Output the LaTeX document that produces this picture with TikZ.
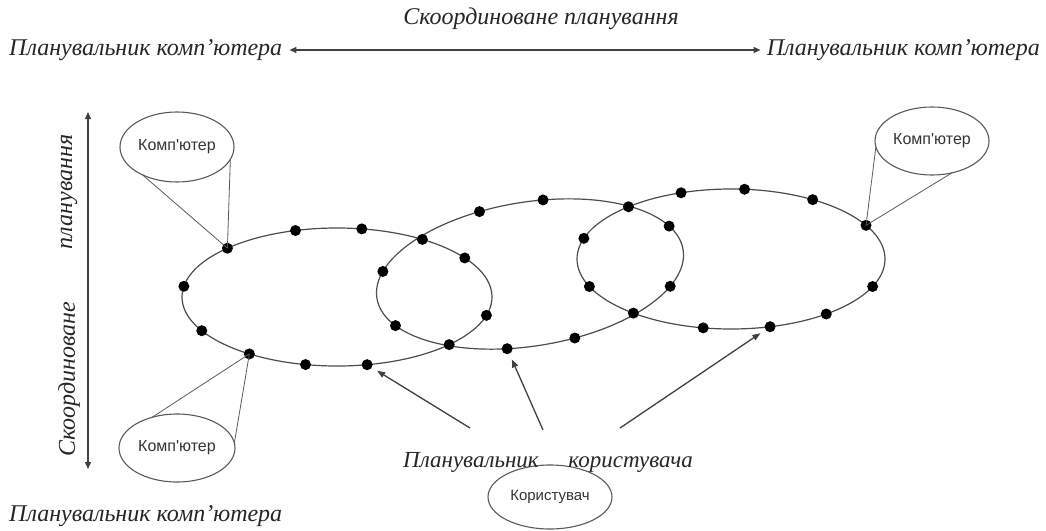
\documentclass[tikz,border=0pt]{standalone}
\usepackage{fontspec}
\setmainfont{Liberation Serif}
\newfontfamily\sansf{Liberation Sans}
\usetikzlibrary{shapes.geometric,arrows.meta}
\begin{document}
\begin{tikzpicture}[x=1pt,y=-1pt,
  lbl/.style={font=\itshape\fontsize{24}{28}\selectfont, text=black!85, inner sep=2pt},
  orbit/.style={ellipse, draw=black!70, line width=1.2pt, outer sep=0pt, inner sep=0pt},
  dot/.style={circle, fill=black, inner sep=0pt, minimum size=11pt},
  bubble/.style={ellipse, draw=black!65, line width=1.1pt, inner sep=0pt, outer sep=0pt,
    font=\sansf\fontsize{16}{19}\selectfont, text=black!80},
  lead/.style={draw=black!65, line width=0.8pt},
  ptr/.style={draw=black!75, line width=1.3pt, -{Triangle[length=8pt,width=6pt]}, shorten >=6pt},
  biarrow/.style={draw=black!75, line width=1.3pt,
    {Triangle[length=7pt,width=6pt]}-{Triangle[length=7pt,width=6pt]}}
]
\useasboundingbox (0,0) rectangle (1046,530);

% headings and axes
\node[lbl] (top) at (541,19) {Скоординоване планування};
\node[lbl, anchor=west] (pl) at (7,50) {Планувальник комп'ютера};
\node[lbl, anchor=east] (pr) at (1042,50) {Планувальник комп'ютера};
\draw[biarrow, shorten <=5pt, shorten >=4pt] (pl.east) -- (pr.west);

\node[lbl, rotate=90] (vs) at (69,379) {Скоординоване};
\node[lbl, rotate=90] (vp) at (69,192) {планування};
\coordinate (vtop) at (88,112);
\coordinate (vbot) at (88,469);
\draw[biarrow] (vtop) -- (vbot);

\node[lbl, anchor=west] (pb) at (7,516) {Планувальник комп'ютера};

% the three rings of planners
\node[orbit, minimum width=310pt, minimum height=138pt] (E1) at (337,297) {};
\node[orbit, minimum width=310pt, minimum height=144pt, rotate=9] (E2) at (530,274) {};
\node[orbit, minimum width=308pt, minimum height=140pt] (E3) at (731,259) {};

% computers and the user
\node[bubble, minimum width=114pt, minimum height=70pt] (C1) at (177,147) {Комп'ютер};
\node[bubble, minimum width=116pt, minimum height=68pt] (C2) at (177,448) {Комп'ютер};
\node[bubble, minimum width=114pt, minimum height=68pt] (C3) at (932,141) {Комп'ютер};
\node[bubble, minimum width=124pt, minimum height=64pt, font=\sansf\fontsize{15}{18}\selectfont] (U) at (550,497) {Користувач};

% points on the rings
\foreach \a/\n in {156/a1,122/a2,70/a3,34/x12,17/a5,-7/a6,-23/x21,-66/a8,-115/a9,-147/a10,194/a11,176/a12}
  \node[dot] (\n) at (E1.\a) {};
\foreach \a/\n in {120/b1,71/b2,10/b3,-14/b4,-64/b5,-116/b6,-168/b7,170/b8}
  \node[dot] (\n) at (E2.\a) {};
\foreach \a/\n in {127/c1,79/c2,36/c3,14/c4,-11/c5,-30/c6,-60/c7,-112/c8,153/x23,-151/x32,172/c11,-169/c12}
  \node[dot] (\n) at (E3.\a) {};

% callout leaders
\draw[lead] (a1.center) -- (C1.219);
\draw[lead] (a1.center) -- (C1.-13);
\draw[lead] (a10.center) -- (C2.129);
\draw[lead] (a10.center) -- (C2.5);
\draw[lead] (c4.center) -- (C3.186);
\draw[lead] (c4.center) -- (C3.-58);

% user planner and its pointers
\node[lbl, font=\itshape\fontsize{23}{27}\selectfont] (up) at (548,462) {Планувальник\hspace{24pt} користувача};
\coordinate (t1) at (470,428);
\coordinate (t2) at (543,430);
\coordinate (t3) at (620,428);
\draw[ptr] (t1) -- (a8);
\draw[ptr] (t2) -- (b6);
\draw[ptr] (t3) -- (c7);
\end{tikzpicture}
\end{document}
